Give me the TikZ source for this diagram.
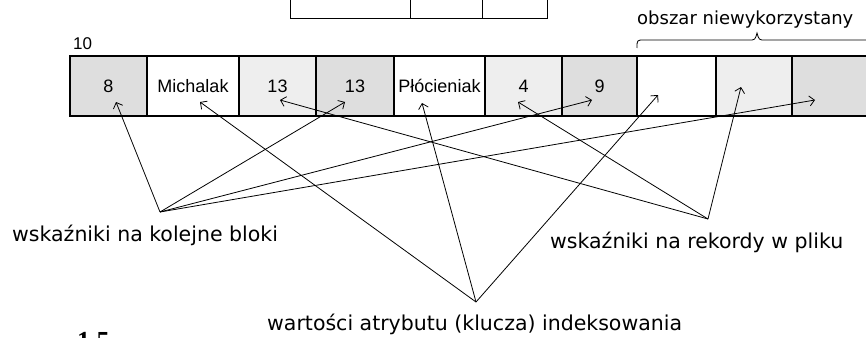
\documentclass[tikz,border=0pt]{standalone}
\usepackage{fontspec}
\setmainfont{Liberation Sans}
\newfontfamily\labelfont{DejaVu Sans}
\newfontfamily\captionserif{Liberation Serif}
\usetikzlibrary{arrows.meta}
\definecolor{cellgray}{HTML}{DEDEDE}
\definecolor{celllight}{HTML}{EEEEEE}

\begin{document}
\begin{tikzpicture}[x=1pt,y=-1pt,
  cell/.style={draw, line width=2.2pt, minimum height=60pt, inner sep=0pt,
               font=\fontsize{18}{20}\selectfont},
  dark/.style={fill=cellgray},
  light/.style={fill=celllight},
  upper/.style={draw, line width=1pt, minimum height=40pt, inner sep=0pt},
  ptr/.style={line width=0.8pt, -{Straight Barb[length=5pt,width=10pt]}},
  lbl/.style={font=\labelfont\fontsize{20.5}{24}\selectfont, inner sep=0pt, anchor=base west}
]
\useasboundingbox (0,0) rectangle (866,337);

% partly visible block above
\node[upper, minimum width=120pt] (u1) at (350,-1) {};
\node[upper, minimum width=72pt]  (u2) at (446,-1) {};
\node[upper, minimum width=65pt]  (u3) at (514.5,-1) {};

% index block
\node[cell, dark,  minimum width=77pt] (c1)  at (108.5,86) {8};
\node[cell,        minimum width=92pt] (c2)  at (193,86)   {Michalak};
\node[cell, light, minimum width=77pt] (c3)  at (277.5,86) {13};
\node[cell, dark,  minimum width=78pt] (c4)  at (355,86)   {13};
\node[cell,        minimum width=91pt] (c5)  at (439.5,86) {Płócieniak};
\node[cell, light, minimum width=77pt] (c6)  at (523.5,86) {4};
\node[cell, dark,  minimum width=75pt] (c7)  at (599.5,86) {9};
\node[cell,        minimum width=79pt] (c8)  at (676.5,86) {};
\node[cell, light, minimum width=76pt] (c9)  at (754,86)   {};
\node[cell, dark,  minimum width=77pt] (c10) at (830.5,86) {};

\node[font=\fontsize{17}{20}\selectfont, inner sep=0pt, anchor=base west] (num) at (73,49) {10};

% brace over the unused area
\draw[line width=0.8pt] (637,48) .. controls (637,40) .. (644,40) -- (749,40)
  .. controls (755,40) .. (757,33) .. controls (759,40) .. (765,40) -- (880,40);
\node[font=\labelfont\fontsize{18}{22}\selectfont, inner sep=0pt, anchor=base west] (unused) at (637,25) {obszar niewykorzystany};

% labels
\node[lbl] (lblA) at (12,241)  {wskaźniki na kolejne bloki};
\node[lbl] (lblB) at (550,248) {wskaźniki na rekordy w pliku};
\node[lbl] (lblC) at (267,330) {wartości atrybutu (klucza) indeksowania};
\node[font=\captionserif\bfseries\fontsize{26}{26}\selectfont, inner sep=0pt, anchor=north west] (cap) at (77,332) {1.5};

% pointer apexes and tips
\coordinate (A) at (160,212);
\coordinate (B) at (708,219);
\coordinate (C) at (476,302);
\coordinate (t1)  at (116,102);
\coordinate (t2)  at (200,102);
\coordinate (t3)  at (280,100);
\coordinate (t4)  at (345,102);
\coordinate (t5)  at (422,103);
\coordinate (t6)  at (518,102);
\coordinate (t7)  at (592,100);
\coordinate (t8)  at (658,95);
\coordinate (t9)  at (741,87);
\coordinate (t10) at (815,100);

\draw[ptr] (A) -- (t1);
\draw[ptr] (A) -- (t4);
\draw[ptr] (A) -- (t7);
\draw[ptr] (A) -- (t10);
\draw[ptr] (B) -- (t3);
\draw[ptr] (B) -- (t6);
\draw[ptr] (B) -- (t9);
\draw[ptr] (C) -- (t2);
\draw[ptr] (C) -- (t5);
\draw[ptr] (C) -- (t8);
\end{tikzpicture}
\end{document}
